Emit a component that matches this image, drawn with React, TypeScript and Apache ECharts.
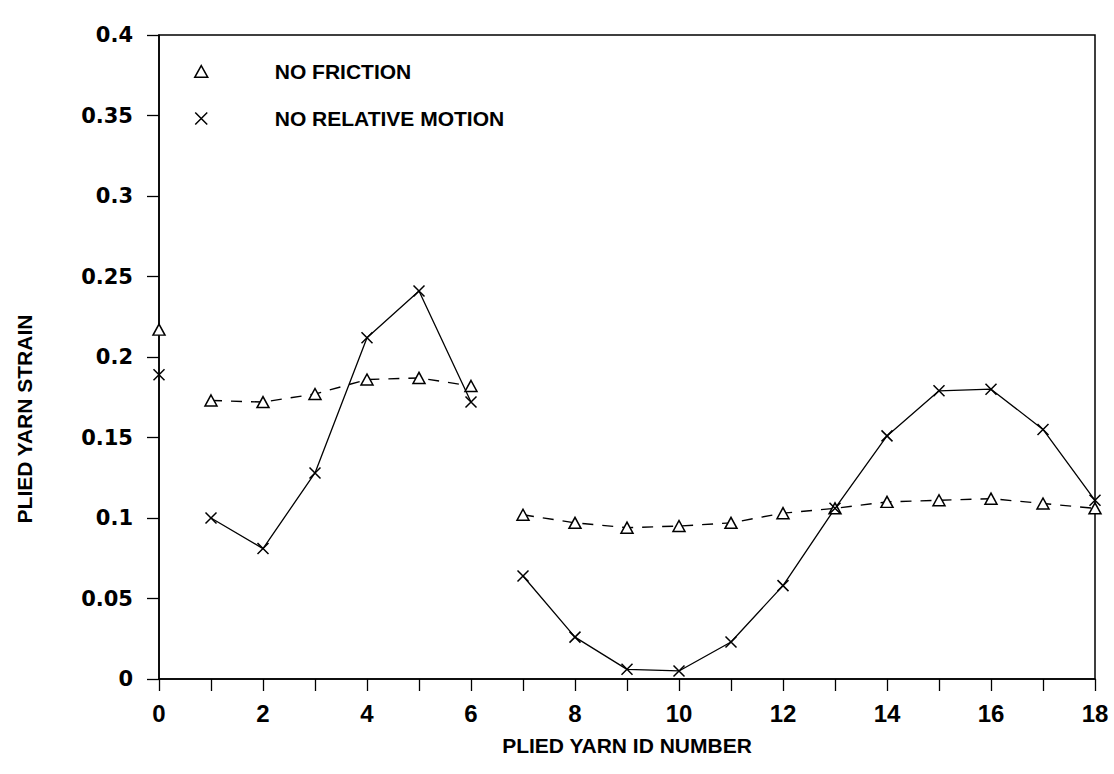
import React, { useEffect, useRef } from "react";
import * as echarts from "echarts";

// Plied yarn ID numbers (x)
const xIds = [0, 1, 2, 3, 4, 5, 6, 7, 8, 9, 10, 11, 12, 13, 14, 15, 16, 17, 18];
// Plied yarn strain, "NO FRICTION" (triangles, dashed)
const noFriction = [
  0.217, 0.173, 0.172, 0.177, 0.186, 0.187, 0.182,
  0.102, 0.097, 0.094, 0.095, 0.097, 0.103, 0.106, 0.11, 0.111, 0.112, 0.109, 0.106,
];
// Plied yarn strain, "NO RELATIVE MOTION" (crosses, solid)
const noRelativeMotion = [
  0.189, 0.1, 0.081, 0.128, 0.212, 0.241, 0.172,
  0.064, 0.026, 0.006, 0.005, 0.023, 0.058, 0.106, 0.151, 0.179, 0.18, 0.155, 0.111,
];
// ids where a new (unconnected) line segment begins
const segmentStarts = [0, 1, 7];

const seriesNames = ["NO FRICTION", "NO RELATIVE MOTION"];
const xAxisName = "PLIED YARN ID NUMBER";
const yAxisName = "PLIED YARN STRAIN";

const TRIANGLE = "path://M5,0L10,9L0,9Z";
const CROSS = "path://M0,0L10,10M10,0L0,10";

function buildData(vals: number[]) {
  const out: any[] = [];
  xIds.forEach((x, i) => {
    if (i > 0 && segmentStarts.includes(x)) out.push([(xIds[i - 1] + x) / 2, "-"]);
    out.push([x, vals[i]]);
  });
  return out;
}

export default function App() {
  const ref = useRef<HTMLDivElement>(null);
  useEffect(() => {
    if (!ref.current) return;
    const chart = echarts.init(ref.current, null, { renderer: "svg" });
    const markerStyle = { color: "#fff", borderColor: "#000", borderWidth: 1.5 };
    chart.setOption({
      animation: false,
      backgroundColor: "#fff",
      grid: {
        left: 159,
        top: 35,
        width: 936,
        height: 644,
        show: true,
        borderColor: "#000",
        borderWidth: 1.5,
      },
      legend: {
        orient: "vertical",
        left: 189,
        top: 56,
        itemWidth: 13,
        itemHeight: 12,
        itemGap: 26,
        symbolKeepAspect: true,
        itemStyle: markerStyle,
        textStyle: {
          color: "#000",
          fontFamily: "Liberation Sans",
          fontWeight: "bold",
          fontSize: 21,
          padding: [0, 0, 0, 62],
        },
        data: [
          { name: seriesNames[0], icon: TRIANGLE },
          { name: seriesNames[1], icon: CROSS },
        ],
      },
      xAxis: {
        type: "value",
        min: 0,
        max: 18,
        interval: 2,
        name: xAxisName,
        nameLocation: "middle",
        nameGap: 56,
        nameTextStyle: {
          color: "#000",
          fontFamily: "Liberation Sans",
          fontWeight: "bold",
          fontSize: 21,
        },
        axisLine: { lineStyle: { color: "#000", width: 1.5 } },
        axisTick: { inside: false, length: 12, lineStyle: { color: "#000", width: 1.3 } },
        minorTick: { show: true, splitNumber: 2, length: 12, lineStyle: { color: "#000", width: 1.3 } },
        splitLine: { show: false },
        axisLabel: {
          margin: 22,
          color: "#000",
          fontFamily: "Liberation Sans",
          fontWeight: "bold",
          fontSize: 24,
        },
      },
      yAxis: {
        type: "value",
        min: 0,
        max: 0.4,
        interval: 0.05,
        name: yAxisName,
        nameLocation: "middle",
        nameGap: 124,
        nameTextStyle: {
          color: "#000",
          fontFamily: "Liberation Sans",
          fontWeight: "bold",
          fontSize: 21,
          padding: [0, 124, 0, 0],
        },
        axisLine: { show: true, lineStyle: { color: "#000", width: 1.5 } },
        axisTick: { show: true, inside: false, length: 12, lineStyle: { color: "#000", width: 1.3 } },
        splitLine: { show: false },
        axisLabel: {
          margin: 26,
          color: "#000",
          fontFamily: "DejaVu Sans",
          fontWeight: "bold",
          fontSize: 21,
        },
      },
      series: [
        {
          name: seriesNames[0],
          type: "line",
          data: buildData(noFriction),
          symbol: TRIANGLE,
          symbolSize: [12, 11],
          showAllSymbol: true,
          connectNulls: false,
          clip: false,
          itemStyle: markerStyle,
          lineStyle: { color: "#000", width: 1.4, type: [11, 9] },
        },
        {
          name: seriesNames[1],
          type: "line",
          data: buildData(noRelativeMotion),
          symbol: CROSS,
          symbolSize: 11,
          showAllSymbol: true,
          connectNulls: false,
          clip: false,
          itemStyle: markerStyle,
          lineStyle: { color: "#000", width: 1.3, type: "solid" },
        },
      ],
    });
    return () => chart.dispose();
  }, []);
  return (
    <div
      ref={ref}
      style={{ position: "fixed", left: 0, top: 0, width: 1114, height: 774, background: "#fff" }}
    />
  );
}
